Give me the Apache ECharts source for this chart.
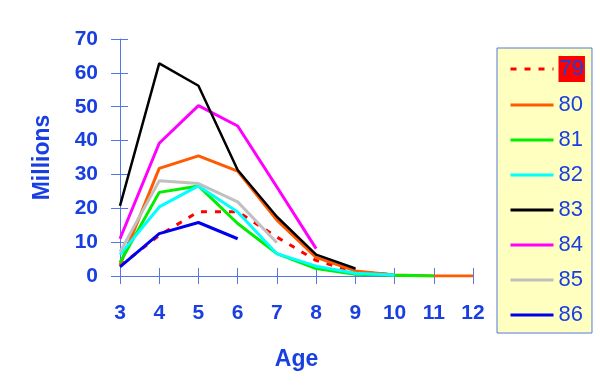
<!DOCTYPE html>
<html>
<head>
<meta charset="utf-8">
<script src="https://cdn.jsdelivr.net/npm/echarts@6/dist/echarts.min.js"></script>
<style>html,body{margin:0;padding:0;background:#fff}#c{width:600px;height:387px}</style>
</head>
<body>
<div id="c"></div>
<script>
// Data
var ages = [3, 4, 5, 6, 7, 8, 9, 10, 11, 12];
var yearNames = ['79', '80', '81', '82', '83', '84', '85', '86'];
var s79 = [3.0, 12.0, 19.0, 19.0, 11.5, 4.6, 1.2, 0.4];
var s80 = [3.2, 31.8, 35.5, 31.0, 16.5, 5.5, 1.5, 0.3, 0.0, 0.0];
var s81 = [4.0, 24.7, 26.6, 15.5, 6.6, 2.2, 0.5, 0.2, 0.0];
var s82 = [6.3, 20.4, 26.6, 18.9, 6.6, 2.9, 0.8, 0.3];
var s83 = [20.7, 62.8, 56.2, 31.3, 17.5, 6.3, 2.2];
var s84 = [11.0, 39.2, 50.3, 44.3, 26.3, 8.1];
var s85 = [7.1, 28.1, 27.3, 21.9, 9.8];
var s86 = [2.7, 12.5, 15.8, 11.0];
var yTicks = [0, 10, 20, 30, 40, 50, 60, 70];

var allSeries = [s79, s80, s81, s82, s83, s84, s85, s86];
var colors = ['#FF0000', '#FF5A00', '#00EE00', '#00FFFF', '#000000', '#FF00FF', '#C0C0C0', '#0000EE'];
var widths = [3, 3, 3, 3, 2.5, 3, 3, 3];
var blue = '#1A3FE0';
var axisBlue = '#5577E6';
var font = 'Liberation Sans, Arial, sans-serif';

var series = allSeries.map(function (vals, i) {
  return {
    name: yearNames[i],
    type: 'line',
    xAxisIndex: 0, yAxisIndex: 0,
    symbol: 'none',
    data: vals.map(function (v, j) { return [ages[j], v]; }),
    lineStyle: { color: colors[i], width: widths[i], type: i === 0 ? [6, 8] : 'solid' },
    itemStyle: { color: colors[i] },
    z: 2 + (i === 4 ? 1 : 0)
  };
});

var chart = echarts.init(document.getElementById('c'));
chart.setOption({
  animation: false,
  backgroundColor: '#fff',
  grid: { left: 120, right: 127, top: 39, bottom: 111, containLabel: false },
  xAxis: [{
    type: 'value', min: 3, max: 12, interval: 1,
    name: 'Age', nameLocation: 'middle', nameGap: 72,
    nameTextStyle: { color: blue, fontSize: 23, fontWeight: 'bold', fontFamily: font },
    axisLine: { show: true, lineStyle: { color: axisBlue, width: 1 } },
    axisTick: { show: true, length: 8, lineStyle: { color: axisBlue } },
    axisLabel: { color: blue, fontSize: 21, fontWeight: 'bold', fontFamily: font, margin: 27 },
    splitLine: { show: false }
  }, {
    type: 'value', min: 3, max: 12, interval: 1, position: 'bottom',
    axisLine: { show: false },
    axisTick: { show: true, inside: true, length: 8, lineStyle: { color: axisBlue } },
    axisLabel: { show: false }, splitLine: { show: false }
  }],
  yAxis: [{
    type: 'value', min: yTicks[0], max: yTicks[yTicks.length - 1], interval: 10,
    name: 'Millions', nameLocation: 'middle', nameGap: 66, nameRotate: 90,
    nameTextStyle: { color: blue, fontSize: 23, fontWeight: 'bold', fontFamily: font },
    axisLine: { show: true, lineStyle: { color: axisBlue, width: 1 } },
    axisTick: { show: true, length: 9, lineStyle: { color: axisBlue } },
    axisLabel: { color: blue, fontSize: 21, fontWeight: 'bold', fontFamily: font, margin: 22 },
    splitLine: { show: false }
  }, {
    type: 'value', min: yTicks[0], max: yTicks[yTicks.length - 1], interval: 10, position: 'left',
    axisLine: { show: false },
    axisTick: { show: true, inside: true, length: 8, lineStyle: { color: axisBlue } },
    axisLabel: { show: false }, splitLine: { show: false }
  }],
  legend: {
    orient: 'vertical',
    left: 497, top: 48,
    backgroundColor: '#FFFFC0',
    borderColor: axisBlue, borderWidth: 1,
    padding: [8, 7, 6, 12],
    itemWidth: 43, itemHeight: 14, itemGap: 11,
    selectedMode: false,
    itemStyle: { color: 'rgba(0,0,0,0)', borderColor: 'rgba(0,0,0,0)', borderWidth: 0 },
    lineStyle: { width: 3 },
    data: yearNames,
    formatter: function (n) { return n === '79' ? '{hl|' + n + '}' : n; },
    textStyle: {
      color: blue, fontSize: 22, fontFamily: font, lineHeight: 24, padding: [0, 0, 0, 0],
      rich: { hl: { backgroundColor: '#FF0000', color: blue, fontSize: 22, fontFamily: font, lineHeight: 24, padding: [2, 1, 2, 1] } }
    }
  },
  series: series
});
</script>
</body>
</html>
